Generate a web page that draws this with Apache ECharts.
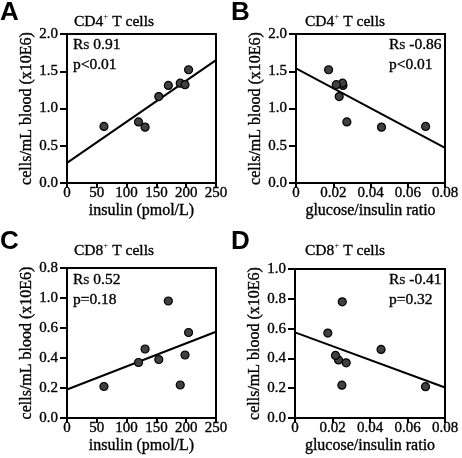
<!DOCTYPE html>
<html><head><meta charset="utf-8">
<script src="https://cdn.jsdelivr.net/npm/echarts@6/dist/echarts.min.js"></script>
<style>html,body{margin:0;padding:0;background:#fff}#c{width:462px;height:458px}</style>
</head><body><div id="c"></div>
<script>
// Per-subject values (same 8 subjects in every panel)
const insulin = [62, 120, 131, 154, 170, 190, 198, 204];
const ratio   = [0.0696, 0.0273, 0.0459, 0.0232, 0.0252, 0.0250, 0.0216, 0.0175];
const cd4     = [0.76, 0.82, 0.75, 1.16, 1.31, 1.34, 1.32, 1.52];
const cd8     = [0.21, 0.37, 0.46, 0.39, 0.78, 0.22, 0.42, 0.57];
// Regression line end points
const fitA = [[0, 0.27], [250, 1.65]];
const fitB = [[0, 1.54], [0.08, 0.47]];
const fitC = [[0, 0.19], [250, 0.575]];
const fitD = [[0, 0.575], [0.08, 0.205]];
// Tick labels
const insulinTicks = ['0', '50', '100', '150', '200', '250'];
const ratioTicks = ['0', '0.02', '0.04', '0.06', '0.08'];
const cd4Ticks = ['0.0', '0.5', '1.0', '1.5', '2.0'];
const cd8TicksC = ['0.0', '0.2', '0.4', '0.6', '1.0', '0.8'];
const cd8TicksD = ['0.0', '0.2', '0.4', '0.6', '0.8', '1.0'];
const panelLetters = ['A', 'B', 'C', 'D'];
const panelTitles = ['CD4', 'CD4', 'CD8', 'CD8'];
const rsVals = ['0.91', '-0.86', '0.52', '-0.41'];
const pVals = ['p<0.01', 'p<0.01', 'p=0.18', 'p=0.32'];

const SERIF = 'Liberation Serif';
const STROKE = {textBorderColor: '#000', textBorderWidth: 0.35};
const grids = [
  {left: 67, right: 246, top: 34, bottom: 275},
  {left: 296, right: 17, top: 34, bottom: 275},
  {left: 67, right: 246, top: 268, bottom: 40},
  {left: 295, right: 17, top: 269, bottom: 40}
].map(g => Object.assign({show: true, borderColor: '#000', borderWidth: 2}, g));

function xAx(i, max, interval, ticks, name) {
  return {
    gridIndex: i, type: 'value', min: 0, max: max, interval: interval,
    name: name, nameLocation: 'middle', nameGap: 20,
    nameTextStyle: Object.assign({fontFamily: SERIF, fontSize: 16, color: '#000'}, STROKE),
    axisLine: {show: true, onZero: false, lineStyle: {color: '#000', width: 2}},
    axisTick: {show: true, length: 5, lineStyle: {color: '#000', width: 2}},
    axisLabel: Object.assign({color: '#000', fontSize: 15, fontFamily: SERIF, margin: 3,
      formatter: function (v) { return ticks[Math.round(v / interval)]; }}, STROKE),
    splitLine: {show: false}
  };
}
function yAx(i, max, interval, ticks) {
  return {
    gridIndex: i, type: 'value', min: 0, max: max, interval: interval,
    name: 'cells/mL blood (x10E6)', nameLocation: 'middle', nameGap: 28,
    nameTextStyle: Object.assign({fontFamily: SERIF, fontSize: 16, color: '#000'}, STROKE),
    axisLine: {show: true, onZero: false, lineStyle: {color: '#000', width: 2}},
    axisTick: {show: true, length: 7, lineStyle: {color: '#000', width: 2}},
    axisLabel: Object.assign({color: '#000', fontSize: 15, fontFamily: SERIF, margin: 9,
      formatter: function (v) { return ticks[Math.round(v / interval)]; }}, STROKE),
    splitLine: {show: false}
  };
}
const xAxes = [
  xAx(0, 250, 50, insulinTicks, 'insulin (pmol/L)'),
  xAx(1, 0.08, 0.02, ratioTicks, 'glucose/insulin ratio'),
  xAx(2, 250, 50, insulinTicks, 'insulin (pmol/L)'),
  xAx(3, 0.08, 0.02, ratioTicks, 'glucose/insulin ratio')
];
const yAxes = [
  yAx(0, 2.0, 0.5, cd4Ticks),
  yAx(1, 2.0, 0.5, cd4Ticks),
  yAx(2, 1.0, 0.2, cd8TicksC),
  yAx(3, 1.0, 0.2, cd8TicksD)
];
function pts(xs, ys) { return xs.map((x, k) => [x, ys[k]]); }
const scatterData = [pts(insulin, cd4), pts(ratio, cd4), pts(insulin, cd8), pts(ratio, cd8)];
const fits = [fitA, fitB, fitC, fitD];
const series = [];
for (let i = 0; i < 4; i++) {
  series.push({type: 'line', xAxisIndex: i, yAxisIndex: i, data: fits[i], symbol: 'none',
    lineStyle: {color: '#000', width: 2}, silent: true, z: 2});
  series.push({type: 'scatter', xAxisIndex: i, yAxisIndex: i, data: scatterData[i],
    symbol: 'circle', symbolSize: 8,
    itemStyle: {color: '#404040', borderColor: '#000', borderWidth: 1.2, opacity: 1}, z: 3});
}
const letterPos = [[0, 0], [231, 0], [0, 229], [231, 229]];
const titlePos = [[74, 12], [305, 12], [74, 241], [305, 241]];
const annPos = [[73, 35], [389, 35], [73, 270], [389, 270]];
const titles = [];
for (let i = 0; i < 4; i++) {
  titles.push({text: panelLetters[i], left: letterPos[i][0], top: letterPos[i][1], padding: 0,
    textStyle: {fontFamily: 'Liberation Sans', fontWeight: 'bold', fontSize: 26, color: '#000'}});
  titles.push({text: '{a|' + panelTitles[i] + '}{s|+}{a| T cells}', left: titlePos[i][0], top: titlePos[i][1], padding: 0,
    textStyle: {fontWeight: 'normal', rich: {
      a: Object.assign({fontFamily: SERIF, fontSize: 15.5, fontWeight: 'normal', color: '#000', lineHeight: 18, verticalAlign: 'bottom'}, STROKE),
      s: {fontFamily: SERIF, fontSize: 9, fontWeight: 'normal', color: '#000', lineHeight: 18, verticalAlign: 'top'}
    }}});
  titles.push({text: '{a|R}{s|S}{a| ' + rsVals[i] + '}\n{a|' + pVals[i] + '}', left: annPos[i][0], top: annPos[i][1], padding: 0,
    textStyle: {fontWeight: 'normal', rich: {
      a: Object.assign({fontFamily: SERIF, fontSize: 15.5, fontWeight: 'normal', color: '#000', lineHeight: 20, verticalAlign: 'middle'}, STROKE),
      s: Object.assign({fontFamily: SERIF, fontSize: 11, fontWeight: 'normal', color: '#000', lineHeight: 20, verticalAlign: 'bottom', padding: [0, 0, 3, 0]}, STROKE)
    }}});
}
const chart = echarts.init(document.getElementById('c'), null, {renderer: 'canvas'});
chart.setOption({
  animation: false, backgroundColor: '#fff',
  textStyle: {fontFamily: SERIF, color: '#000'},
  title: titles, grid: grids, xAxis: xAxes, yAxis: yAxes, series: series
});
</script></body></html>
